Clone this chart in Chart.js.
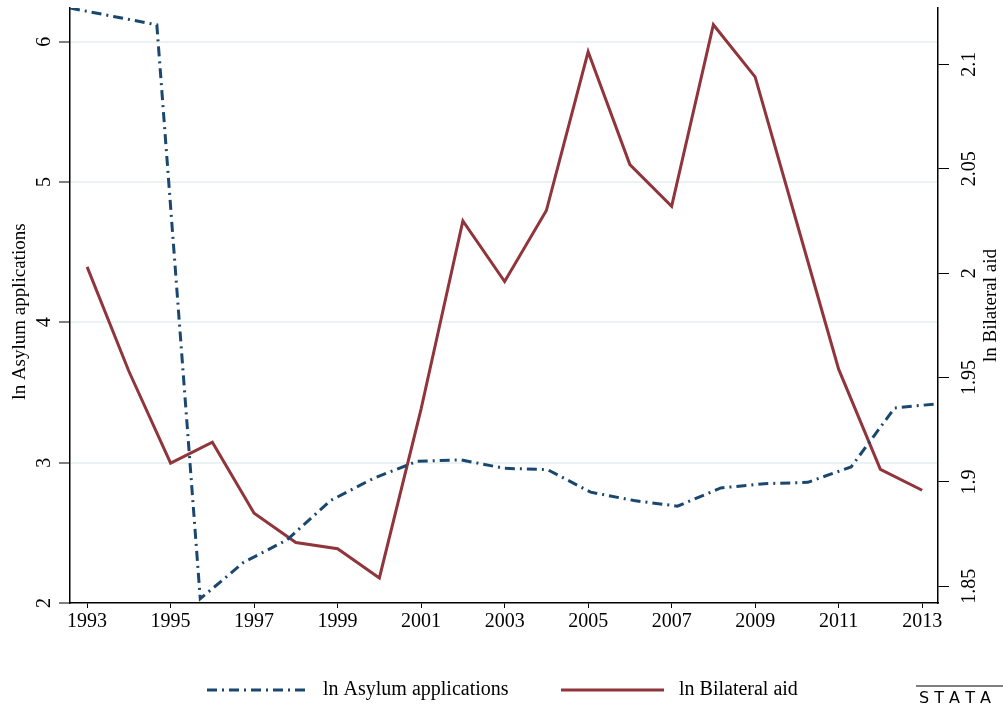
<!DOCTYPE html>
<html>
<head>
<meta charset="utf-8">
<script src="https://cdn.jsdelivr.net/npm/chart.js@4"></script>
<style>
  body { margin: 0; background: #fff; }
  #wrap { width: 1003px; height: 711px; }
</style>
</head>
<body>
<div id="wrap"><canvas id="chart" width="1003" height="711"></canvas></div>
<script>
// asylum series sits on its own (fractional) time positions
var asylumYears = [1992.59, 1993.63, 1994.67, 1995.71, 1996.75, 1997.79, 1998.83, 1999.87, 2000.91, 2001.95,
                   2002.99, 2004.03, 2005.06, 2006.10, 2007.14, 2008.18, 2009.22, 2010.26, 2011.30, 2012.34, 2013.38];
var asylumValues = [6.24, 6.18, 6.12, 2.03, 2.29, 2.45, 2.73, 2.89, 3.01, 3.02,
                    2.96, 2.95, 2.79, 2.73, 2.69, 2.82, 2.85, 2.86, 2.97, 3.39, 3.42];

var aidYears = [1993, 1994, 1995, 1996, 1997, 1998, 1999, 2000, 2001, 2002, 2003,
                2004, 2005, 2006, 2007, 2008, 2009, 2010, 2011, 2012, 2013];
var aidValues = [2.003, 1.953, 1.909, 1.919, 1.885, 1.871, 1.868, 1.854, 1.935, 2.025, 1.996,
                 2.030, 2.106, 2.052, 2.032, 2.119, 2.094, 2.024, 1.954, 1.906, 1.896];

var xTicks = [1993, 1995, 1997, 1999, 2001, 2003, 2005, 2007, 2009, 2011, 2013];
var leftTicks = [2, 3, 4, 5, 6];
var rightTicks = [1.85, 1.9, 1.95, 2, 2.05, 2.1];
var rightLabels = ['1.85', '1.9', '1.95', '2', '2.05', '2.1'];

var navy = '#1a476f';
var maroon = '#90353b';
var serif = '"Liberation Serif", "Times New Roman", serif';

function pts(xs, ys) {
    return xs.map(function(x, i) { return {x: x, y: ys[i]}; });
}

// rotated tick labels, axis titles, legend and logo
var stataDecor = {
    id: 'stataDecor',
    afterDraw: function(chart) {
        var ctx = chart.ctx;
        var area = chart.chartArea;
        var yl = chart.scales.y, yr = chart.scales.y2;
        var midY = (area.top + area.bottom) / 2;
        ctx.save();
        ctx.fillStyle = '#000';
        ctx.font = '20px ' + serif;
        ctx.textAlign = 'center';
        ctx.textBaseline = 'alphabetic';

        function vtext(txt, x, y) {
            ctx.save();
            ctx.translate(x, y);
            ctx.rotate(-Math.PI / 2);
            ctx.fillText(txt, 0, 0);
            ctx.restore();
        }
        leftTicks.forEach(function(v) { vtext(String(v), 50, yl.getPixelForValue(v)); });
        rightTicks.forEach(function(v, i) { vtext(rightLabels[i], 975, yr.getPixelForValue(v)); });
        ctx.font = '19px ' + serif;
        vtext('ln Asylum applications', 25, midY + 6);
        vtext('ln Bilateral aid', 996, midY);

        // legend
        var ly = 690;
        ctx.font = '20px ' + serif;
        ctx.lineWidth = 3;
        ctx.strokeStyle = navy;
        ctx.setLineDash([10, 5, 2, 5]);
        ctx.beginPath(); ctx.moveTo(207, ly); ctx.lineTo(307, ly); ctx.stroke();
        ctx.strokeStyle = maroon;
        ctx.setLineDash([]);
        ctx.beginPath(); ctx.moveTo(561, ly); ctx.lineTo(664, ly); ctx.stroke();
        ctx.textAlign = 'left';
        ctx.textBaseline = 'middle';
        ctx.fillText('ln Asylum applications', 323, ly);
        ctx.fillText('ln Bilateral aid', 679, ly);

        // stata logo
        ctx.lineWidth = 1.2;
        ctx.strokeStyle = '#000';
        ctx.beginPath(); ctx.moveTo(916, 686); ctx.lineTo(1003, 686); ctx.stroke();
        ctx.font = '16px "DejaVu Sans"';
        ctx.textBaseline = 'alphabetic';
        ctx.fillText('S T A T A', 919, 703);
        ctx.restore();
    }
};

var ctx = document.getElementById('chart').getContext('2d');
var chart = new Chart(ctx, {
    type: 'line',
    data: {
        datasets: [{
            label: 'ln Asylum applications',
            data: pts(asylumYears, asylumValues),
            yAxisID: 'y',
            borderColor: navy,
            borderWidth: 3,
            borderDash: [10, 5, 2, 5],
            pointRadius: 0,
            tension: 0,
            fill: false
        }, {
            label: 'ln Bilateral aid',
            data: pts(aidYears, aidValues),
            yAxisID: 'y2',
            borderColor: maroon,
            borderWidth: 3,
            pointRadius: 0,
            tension: 0,
            fill: false
        }]
    },
    options: {
        responsive: false,
        animation: false,
        layout: { padding: { top: 8, bottom: 70, left: 0, right: 0 } },
        plugins: { legend: { display: false }, tooltip: { enabled: false } },
        scales: {
            x: {
                type: 'linear',
                min: 1992.59,
                max: 2013.38,
                afterBuildTicks: function(s) { s.ticks = xTicks.map(function(v) { return {value: v}; }); },
                afterFit: function(s) { s.height = 38; },
                grid: { drawOnChartArea: false, tickLength: 5, color: '#000', lineWidth: 1 },
                border: { color: '#000', width: 1.5 },
                ticks: {
                    color: '#000',
                    font: { family: serif, size: 20 },
                    padding: 2,
                    maxRotation: 0,
                    callback: function(v) { return String(v); }
                }
            },
            y: {
                type: 'linear',
                position: 'left',
                min: 2,
                max: 6.24,
                afterBuildTicks: function(s) { s.ticks = leftTicks.map(function(v) { return {value: v}; }); },
                afterFit: function(s) { s.width = 70; },
                grid: {
                    color: function(c) { return c.tick && c.tick.value === 2 ? 'rgba(0,0,0,0)' : '#eaf2f3'; },
                    lineWidth: 2,
                    tickColor: '#000',
                    tickWidth: 1,
                    tickLength: 11
                },
                border: { color: '#000', width: 1.5 },
                ticks: { display: false }
            },
            y2: {
                type: 'linear',
                position: 'right',
                min: 1.842,
                max: 2.127,
                afterBuildTicks: function(s) { s.ticks = rightTicks.map(function(v) { return {value: v}; }); },
                afterFit: function(s) { s.width = 65; },
                grid: { drawOnChartArea: false, color: '#000', tickLength: 11, lineWidth: 1 },
                border: { color: '#000', width: 1.5 },
                ticks: { display: false }
            }
        }
    },
    plugins: [stataDecor]
});
</script>
</body>
</html>
